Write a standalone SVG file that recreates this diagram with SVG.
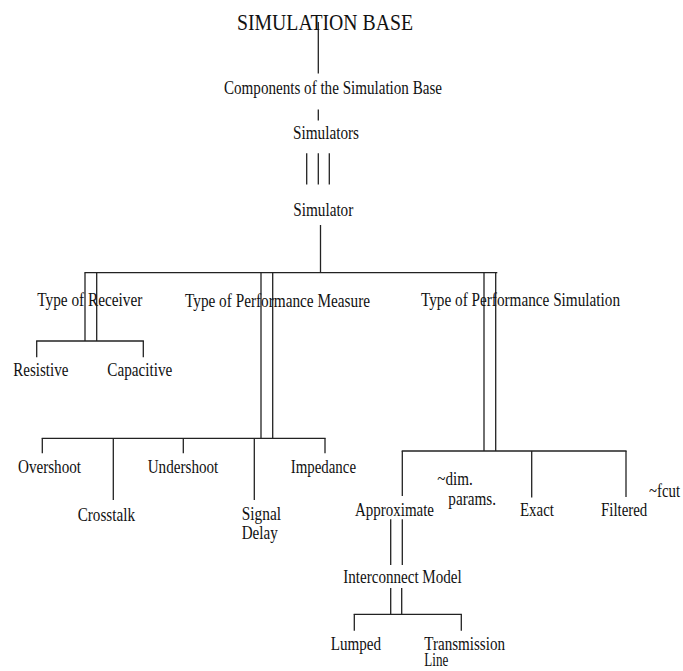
<svg xmlns="http://www.w3.org/2000/svg" width="683" height="671" viewBox="0 0 683 671">
<style>
text{font-family:"Liberation Serif","Times New Roman",serif;font-size:18.6px;fill:#111;}
.title{font-size:24px;}
#connectors line{stroke:#222;stroke-width:1.3;}
</style>
<rect width="683" height="671" fill="#fff"/>
<g id="connectors">
<line x1="318.3" y1="22" x2="318.3" y2="73.5"/>
<line x1="318.3" y1="109.5" x2="318.3" y2="120.5"/>
<line x1="306.7" y1="153.3" x2="306.7" y2="184.5"/>
<line x1="318.3" y1="153.3" x2="318.3" y2="184.5"/>
<line x1="329.3" y1="153.3" x2="329.3" y2="184.5"/>
<line x1="320.5" y1="225" x2="320.5" y2="272.7"/>
<line x1="84.4" y1="272.7" x2="497.3" y2="272.7"/>
<line x1="85" y1="272.7" x2="85" y2="341"/>
<line x1="96.7" y1="272.7" x2="96.7" y2="341"/>
<line x1="36.1" y1="341" x2="143.9" y2="341"/>
<line x1="36.7" y1="341" x2="36.7" y2="357.3"/>
<line x1="143.3" y1="341" x2="143.3" y2="357.3"/>
<line x1="261" y1="272.7" x2="261" y2="438.3"/>
<line x1="272.7" y1="272.7" x2="272.7" y2="438.3"/>
<line x1="41.7" y1="438.3" x2="325.6" y2="438.3"/>
<line x1="42.3" y1="438.3" x2="42.3" y2="453.3"/>
<line x1="113.3" y1="438.3" x2="113.3" y2="500"/>
<line x1="183.3" y1="438.3" x2="183.3" y2="453.3"/>
<line x1="254.3" y1="438.3" x2="254.3" y2="500"/>
<line x1="325" y1="438.3" x2="325" y2="453.3"/>
<line x1="484" y1="272.7" x2="484" y2="451"/>
<line x1="495.7" y1="272.7" x2="495.7" y2="451"/>
<line x1="401.7" y1="451" x2="626.6" y2="451"/>
<line x1="402.3" y1="451" x2="402.3" y2="496"/>
<line x1="531.7" y1="451" x2="531.7" y2="497.5"/>
<line x1="626" y1="451" x2="626" y2="497"/>
<line x1="390.7" y1="519.3" x2="390.7" y2="565"/>
<line x1="402.3" y1="519.3" x2="402.3" y2="565"/>
<line x1="390.7" y1="588" x2="390.7" y2="614.3"/>
<line x1="401.7" y1="588" x2="401.7" y2="614.3"/>
<line x1="353.7" y1="614.3" x2="461.9" y2="614.3"/>
<line x1="354.3" y1="614.3" x2="354.3" y2="630.7"/>
<line x1="461.3" y1="614.3" x2="461.3" y2="630.7"/>
</g>
<g id="simulation-base"><text class="title" x="237" y="29.5" textLength="176" lengthAdjust="spacingAndGlyphs">SIMULATION BASE</text></g>
<g id="components"><text x="224" y="94" textLength="218" lengthAdjust="spacingAndGlyphs">Components of the Simulation Base</text></g>
<g id="simulators"><text x="293" y="139" textLength="66" lengthAdjust="spacingAndGlyphs">Simulators</text></g>
<g id="simulator"><text x="293.3" y="216" textLength="60" lengthAdjust="spacingAndGlyphs">Simulator</text></g>
<g id="type-of-receiver"><text x="37.3" y="306" textLength="105" lengthAdjust="spacingAndGlyphs">Type of Receiver</text></g>
<g id="type-of-performance-measure"><text x="185" y="307" textLength="185" lengthAdjust="spacingAndGlyphs">Type of Performance Measure</text></g>
<g id="type-of-performance-simulation"><text x="421" y="306" textLength="199" lengthAdjust="spacingAndGlyphs">Type of Performance Simulation</text></g>
<g id="resistive"><text x="13.3" y="375.7" textLength="55" lengthAdjust="spacingAndGlyphs">Resistive</text></g>
<g id="capacitive"><text x="107.3" y="375.7" textLength="65" lengthAdjust="spacingAndGlyphs">Capacitive</text></g>
<g id="overshoot"><text x="18" y="472.7" textLength="63" lengthAdjust="spacingAndGlyphs">Overshoot</text></g>
<g id="crosstalk"><text x="77.7" y="520.7" textLength="57.3" lengthAdjust="spacingAndGlyphs">Crosstalk</text></g>
<g id="undershoot"><text x="147.7" y="473" textLength="70.6" lengthAdjust="spacingAndGlyphs">Undershoot</text></g>
<g id="signal-delay"><text x="241.7" y="520" textLength="39.3" lengthAdjust="spacingAndGlyphs">Signal</text><text x="241.7" y="539.3" textLength="36" lengthAdjust="spacingAndGlyphs">Delay</text></g>
<g id="impedance"><text x="290.7" y="473" textLength="65.3" lengthAdjust="spacingAndGlyphs">Impedance</text></g>
<g id="approximate"><text x="355" y="516" textLength="79" lengthAdjust="spacingAndGlyphs">Approximate</text></g>
<g id="dim-params"><text x="437.3" y="485" textLength="35.4" lengthAdjust="spacingAndGlyphs">~dim.</text><text x="448.3" y="505" textLength="47.7" lengthAdjust="spacingAndGlyphs">params.</text></g>
<g id="exact"><text x="520" y="516" textLength="34" lengthAdjust="spacingAndGlyphs">Exact</text></g>
<g id="filtered"><text x="601" y="516" textLength="46.3" lengthAdjust="spacingAndGlyphs">Filtered</text></g>
<g id="fcut"><text x="649" y="497.3" textLength="31" lengthAdjust="spacingAndGlyphs">~fcut</text></g>
<g id="interconnect-model"><text x="343.3" y="583" textLength="118.4" lengthAdjust="spacingAndGlyphs">Interconnect Model</text></g>
<g id="lumped"><text x="330.7" y="650" textLength="50.3" lengthAdjust="spacingAndGlyphs">Lumped</text></g>
<g id="transmission-line"><text x="424.3" y="650" textLength="80.7" lengthAdjust="spacingAndGlyphs">Transmission</text><text x="424.3" y="665.5" textLength="24" lengthAdjust="spacingAndGlyphs">Line</text></g>
</svg>
